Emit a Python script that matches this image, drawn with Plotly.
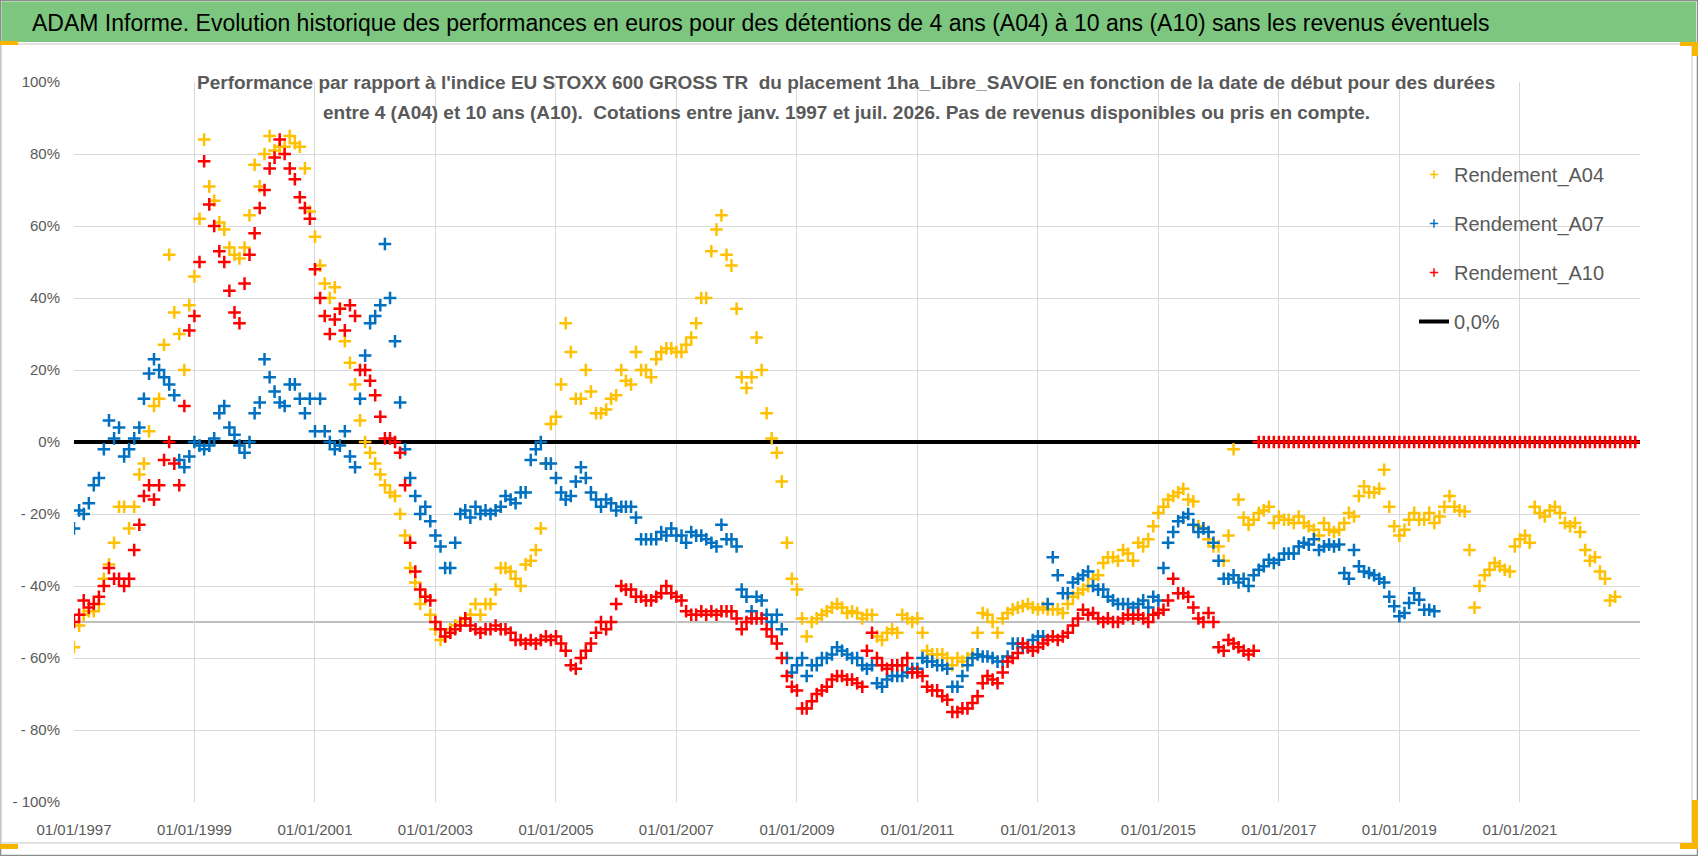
import pandas as pd
import plotly.graph_objects as go

# --- data (monthly, values in %) ---
a04_start = "1997-01-01"
a04_values = [
    -57, -51, -48, -47, -47, -45, -38, -34, -28, -18, -18, -24,      # 1997
    -18, -9, -6, 3, 10, 12, 27, 52, 36, 30, 20, 38,                  # 1998
    46, 62, 84, 71, 67, 61, 59, 54, 52, 51, 54, 63,                  # 1999
    77, 71, 80, 85, 81, 82, 82, 85, 83, 82, 76, 64,                  # 2000
    57, 49, 44, 40, 43, 37, 28, 22, 16, 6, 0, -3,                    # 2001
    -6, -9, -12, -14, -15, -20, -26, -35, -39, -45, -43, -48,        # 2002
    -52, -55, -54, -52, -51, -50, -49, -48, -45, -48, -45, -45,      # 2003
    -41, -35, -35, -36, -38, -40, -34, -33, -30, -24, -6, 5,         # 2004
    7, 16, 33, 25, 12, 12, 20, 14, 8, 8, 9, 12,                      # 2005
    13, 20, 17, 16, 25, 20, 20, 18, 23, 25, 26, 26,                  # 2006
    25, 25, 27, 29, 33, 40, 40, 53, 59, 63, 52, 49,                  # 2007
    37, 18, 15, 18, 29, 20, 8, 1, -3, -11, -28, -38,                 # 2008
    -41, -49, -54, -50, -49, -48, -47, -46, -45, -46, -47.5, -47,    # 2009
    -47.5, -49, -48, -48, -54, -55, -53, -52, -53, -48, -49, -50,    # 2010
    -49, -53, -58, -59, -59, -59, -60, -62, -60, -61, -60, -59,      # 2011
    -53, -47.5, -48, -50, -53, -49, -47.5, -46.5, -46, -45.6, -45, -46,  # 2012
    -46.5, -46, -46.5, -46.5, -46.5, -47.5, -45, -43, -42, -41, -40, -38,  # 2013
    -37, -33.6, -32, -32, -33, -30, -31, -33, -28, -29, -27, -23.4,  # 2014
    -19.7, -18, -16, -15, -14, -13, -16, -16.5, -23.4, -24, -27, -29,  # 2015
    -29, -33, -26, -2, -16, -21, -23, -21.6, -19.7, -19, -18, -22.5,   # 2016
    -20.7, -21.6, -21.6, -22.5, -20.7, -22.5, -23.4, -24.4, -26, -22.5, -24.4, -25,  # 2017
    -24.4, -22.5, -19.7, -20.7, -15, -12.3, -14, -14, -13, -7.7, -18, -23.4,  # 2018
    -26, -24.4, -21.6, -19.7, -21.6, -21.6, -19.7, -22.5, -20.7, -18, -15, -18,  # 2019
    -19, -19.3, -30, -46, -40, -37, -35.5, -33.6, -34.5, -35.5, -36, -29,      # 2020
    -27, -26, -28, -18, -19.7, -20.7, -19, -18, -19.7, -22.5, -23.4, -22.5,    # 2021
    -25, -30, -33, -32, -36, -38, -44, -43,                          # 2022
]

a07_start = "1997-01-01"
a07_values = [
    -24, -19, -20, -17, -12, -10, -2, 6, 1, 4, -4, -2,               # 1997
    1, 4, 12, 19, 23, 20, 18, 16, 13, -5, -7, -4,                    # 1998
    0, -1, -2, -1, 1, 8, 10, 4, 2, -1, -3, 0,                        # 1999
    8, 11, 23, 18, 14, 11, 10, 16, 16, 12, 8, 12,                    # 2000
    3, 12, 3, 0, -2, -1, 3, -4, -7, 12, 24, 33,                      # 2001
    35, 38, 55, 40, 28, 11, -2, -10, -15, -20, -18, -22,             # 2002
    -26, -29, -35, -35, -28, -20, -19, -21, -18, -20, -19, -20,      # 2003
    -19, -18, -15, -16, -17, -14, -14, -5, -2, 0, -6, -6,            # 2004
    -10, -14, -16, -15, -11, -7, -10, -14, -16, -18, -16, -17,       # 2005
    -19, -18, -18, -18, -21, -27, -27, -27, -27, -25, -26, -24,      # 2006
    -26, -26, -28, -25, -26, -26, -27, -28, -29, -23, -27, -27,      # 2007
    -29, -41, -43, -47, -43, -44, -48, -50, -48, -52, -60, -64,      # 2008
    -62, -60, -65, -62, -62, -60, -60, -59, -57, -58, -59, -60,      # 2009
    -60, -62, -63, -62, -67, -68, -66, -65, -65, -65, -64, -63,      # 2010
    -63, -60, -61, -61, -62, -62, -63, -68, -68, -65, -62, -60,      # 2011
    -59, -59.6, -59.6, -60, -61, -61, -59.6, -56, -56, -57, -57, -55,  # 2012
    -54, -54, -45, -32, -37, -42, -42, -39, -38, -37, -36, -40,      # 2013
    -41, -41, -43, -44, -45, -45, -45, -46, -45, -44, -46, -43,      # 2014
    -44, -35, -28, -25, -22, -21, -20, -23, -25, -24, -25, -28,      # 2015
    -33, -38, -38, -37, -39, -38, -40, -37, -35.5, -34.5, -32.7, -33.6,  # 2016
    -32.7, -31, -31, -31, -29, -28, -28.5, -27, -30, -29, -28.5, -29,    # 2017
    -28.5, -36.4, -38, -30, -34.5, -36, -36.4, -37, -38, -39, -43, -45.6,  # 2018
    -48.4, -47.5, -44.7, -42, -43.8, -46.6, -46.6, -47,              # 2019
]

a10_start = "1997-01-01"
a10_values = [
    -50, -48, -44, -46, -45, -43, -40, -35, -38, -38, -40, -38,      # 1997
    -30, -23, -15, -12, -16, -12, -5, 0, -6, -12, 10, 31,            # 1998
    35, 50, 78, 66, 60, 53, 50, 42, 36, 33, 44, 52,                  # 1999
    58, 65, 70, 76, 79, 84, 80, 76, 73, 68, 65, 62,                  # 2000
    48, 40, 35, 30, 34, 37, 31, 38, 35, 20, 20, 17,                  # 2001
    13, 7, 1, 1, 0, -3, -12, -28, -36, -41, -43, -44,                # 2002
    -50, -52, -54, -53, -52, -51, -49, -51, -52, -53, -52, -52,      # 2003
    -51, -52, -52, -53, -55, -55, -56, -55, -56, -55, -54, -55,      # 2004
    -54, -56, -58, -62, -63, -60, -58, -56, -53, -50, -52, -50,      # 2005
    -45, -40, -41, -41, -43, -43, -44, -44, -43, -42, -40, -42,      # 2006
    -43, -44, -47, -48, -48, -47, -48, -47, -48, -47, -47, -47,      # 2007
    -49, -52, -50, -49, -49, -49, -52, -54, -56, -60, -65, -68,      # 2008
    -69, -74, -74, -72, -70, -69, -68, -66, -65, -65, -66, -66,      # 2009
    -67, -68, -58, -53, -60, -62, -63, -62, -62, -62, -60, -64,      # 2010
    -64, -65, -68, -69, -69, -70.6, -71.6, -75, -75, -74, -74, -72.5,  # 2011
    -70.6, -67, -65, -66, -67, -64, -61, -60, -58.6, -56, -57, -58,    # 2012
    -57, -56, -55, -54, -55, -54, -53, -51, -49, -46.6, -48, -47.5,    # 2013
    -49, -50, -49, -50, -50, -49, -48, -49, -48, -49, -50, -48,      # 2014
    -47.5, -46.6, -44, -38, -42, -42, -43, -46, -49, -50, -47.5, -50,  # 2015
    -57, -58, -55, -56, -57, -58, -59, -58,                          # 2016
]

# A10 has no full 10-year window after mid-2016: plotted at 0 %
a10_zero_start = "2016-09-01"
a10_zero_end = "2022-12-01"

zero_line_x = ["1997-01-01", "2022-12-31"]
zero_line_y = [0, 0]

y_tickvals = [-100, -80, -60, -40, -20, 0, 20, 40, 60, 80, 100]
y_ticktext = ["- 100%", "- 80%", "- 60%", "- 40%", "- 20%", "0%",
              "20%", "40%", "60%", "80%", "100%"]

series_names = ["Rendement_A04", "Rendement_A07", "Rendement_A10", "0,0%"]
colors = ["#FFC000", "#0070C0", "#FF0000", "#000000"]

main_title = ("ADAM Informe. Evolution historique des performances en euros pour des "
              "détentions de 4 ans (A04) à 10 ans (A10) sans les revenus éventuels")
sub_title_1 = ("Performance par rapport à l'indice EU STOXX 600 GROSS TR  du placement "
               "1ha_Libre_SAVOIE en fonction de la date de début pour des durées")
sub_title_2 = ("entre 4 (A04) et 10 ans (A10).  Cotations entre janv. 1997 et juil. 2026. "
               "Pas de revenus disponibles ou pris en compte.")

FONT = "Liberation Sans, Arial, sans-serif"
GREY_TXT = "#595959"

# plot area in pixels
W, H = 1698, 856
L, R, T, B = 74, 58, 82, 54
PW, PH = W - L - R, H - T - B


def px_x(p):
    return (p - L) / PW


def px_y(p):
    return (H - B - p) / PH


def monthly(start, values):
    return pd.date_range(start, periods=len(values), freq="MS")


def cross(col, size=9, width=2.5):
    return dict(symbol="cross-thin", size=size, color=col, line=dict(color=col, width=width))


fig = go.Figure()

# 0% reference line (drawn first so the markers sit on top of it)
fig.add_trace(go.Scatter(
    x=zero_line_x, y=zero_line_y, mode="lines", name=series_names[3],
    line=dict(color=colors[3], width=4), legendgroup="z", legendrank=4,
    hoverinfo="skip"))

for name, col, start, vals, grp, rank in [
        (series_names[0], colors[0], a04_start, a04_values, "a04", 1),
        (series_names[1], colors[1], a07_start, a07_values, "a07", 2),
        (series_names[2], colors[2], a10_start, a10_values, "a10", 3)]:
    fig.add_trace(go.Scatter(
        x=monthly(start, vals), y=vals, mode="markers", name=name,
        legendgroup=grp, showlegend=False, marker=cross(col)))
    # legend entry with the small marker used in the reference legend
    fig.add_trace(go.Scatter(
        x=[None], y=[None], mode="markers", name=name, legendgroup=grp,
        legendrank=rank, marker=cross(col, size=6, width=1.5)))

zero_dates = pd.date_range(a10_zero_start, a10_zero_end, freq="MS")
fig.add_trace(go.Scatter(
    x=zero_dates, y=[0] * len(zero_dates), mode="markers", showlegend=False,
    legendgroup="a10", marker=cross(colors[2])))

shapes = [
    # outer frame and chart border
    dict(type="rect", xref="paper", yref="paper", x0=px_x(0.5), x1=px_x(1697.5),
         y0=px_y(855.5), y1=px_y(0.5), line=dict(color="#8C8C8C", width=1.5), layer="below"),
    dict(type="rect", xref="paper", yref="paper", x0=px_x(1), x1=px_x(1692),
         y0=px_y(843), y1=px_y(44), line=dict(color="#D9D9D9", width=1.5), layer="below"),
    # green title band
    dict(type="rect", xref="paper", yref="paper", x0=px_x(1.5), x1=px_x(1696),
         y0=px_y(42), y1=px_y(1.5), fillcolor="#7DC67F", line=dict(width=0), layer="below"),
    # -50% darker line
    dict(type="line", xref="paper", yref="y", x0=0, x1=1, y0=-50, y1=-50,
         line=dict(color="#BFBFBF", width=2), layer="between"),
    # white boxes behind chart title and legend
    dict(type="rect", xref="paper", yref="paper", x0=px_x(197), x1=px_x(1505),
         y0=px_y(130), y1=px_y(60), fillcolor="white", line=dict(width=0), layer="between"),
    dict(type="rect", xref="paper", yref="paper", x0=px_x(1383), x1=px_x(1641),
         y0=px_y(347), y1=px_y(148), fillcolor="white", line=dict(width=0), layer="between"),
]
# yellow selection handles
for x0, x1, y0, y1 in [(0, 18, 41, 45), (1680, 1698, 42, 46), (1692, 1698, 42, 56),
                       (1692, 1698, 800, 849), (1680, 1698, 843, 849), (0, 18, 844, 849)]:
    shapes.append(dict(type="rect", xref="paper", yref="paper", x0=px_x(x0), x1=px_x(x1),
                       y0=px_y(y1), y1=px_y(y0), fillcolor="#F7B500",
                       line=dict(width=0), layer="above"))

annotations = [
    dict(text=main_title, x=px_x(760), y=px_y(23), xref="paper", yref="paper",
         showarrow=False, xanchor="center", yanchor="middle",
         font=dict(family=FONT, size=23, color="black")),
    dict(text="<b>" + sub_title_1 + "</b>", x=px_x(846), y=px_y(82), xref="paper",
         yref="paper", showarrow=False, xanchor="center", yanchor="middle",
         font=dict(family=FONT, size=19, color=GREY_TXT)),
    dict(text="<b>" + sub_title_2 + "</b>", x=px_x(846), y=px_y(113), xref="paper",
         yref="paper", showarrow=False, xanchor="center", yanchor="middle",
         font=dict(family=FONT, size=19, color=GREY_TXT)),
]

fig.update_layout(
    width=W, height=H,
    margin=dict(l=L, r=R, t=T, b=B),
    paper_bgcolor="white", plot_bgcolor="white",
    font=dict(family=FONT, color=GREY_TXT),
    shapes=shapes, annotations=annotations,
    legend=dict(x=px_x(1414), y=px_y(155), xanchor="left", yanchor="top",
                bgcolor="rgba(0,0,0,0)", font=dict(family=FONT, size=20, color=GREY_TXT),
                traceorder="grouped", tracegroupgap=20, itemsizing="trace"),
    showlegend=True,
)

fig.update_xaxes(
    type="date", range=["1997-01-01", "2022-12-30"],
    tick0="1997-01-01", dtick="M24", tickformat="%d/%m/%Y",
    showgrid=True, gridcolor="#D9D9D9", gridwidth=1.2,
    showline=False, zeroline=False, ticks="",
    tickfont=dict(family=FONT, size=15, color=GREY_TXT),
    ticklabelstandoff=17,
)
fig.update_yaxes(
    range=[-100, 100], tickvals=y_tickvals, ticktext=y_ticktext,
    showgrid=True, gridcolor="#D9D9D9", gridwidth=1.2,
    showline=False, zeroline=False, ticks="",
    tickfont=dict(family=FONT, size=15, color=GREY_TXT),
    ticklabelstandoff=13,
)

# page body margin removed so the figure sits at the window's top-left corner
fig.write_html("out.html", config={"displayModeBar": False},
               post_script="document.body.style.margin='0px';")
